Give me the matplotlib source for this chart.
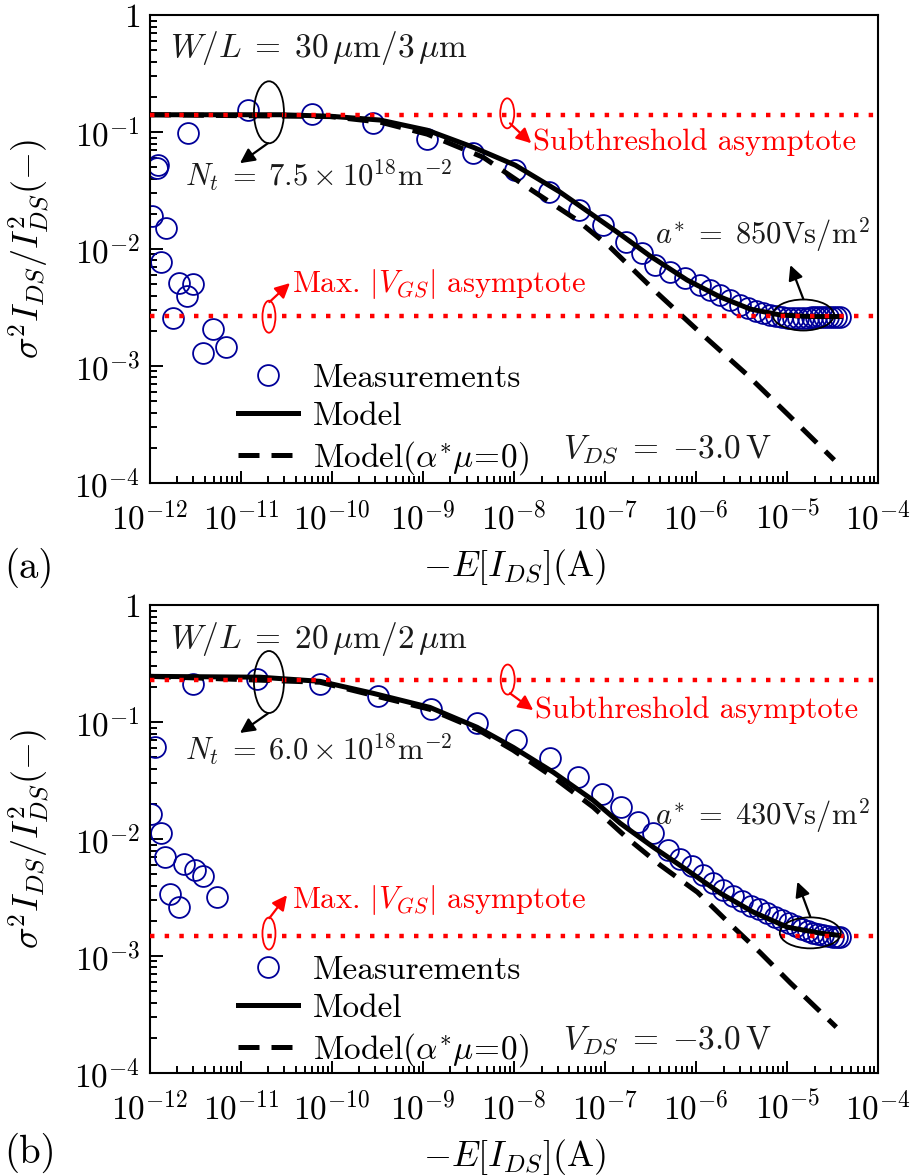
import matplotlib
matplotlib.use("Agg")
import matplotlib.pyplot as plt
from matplotlib.patches import Ellipse
from matplotlib.transforms import ScaledTranslation
from matplotlib.ticker import FixedLocator, FixedFormatter, LogLocator, NullFormatter

plt.rcParams.update({
    "font.family": "serif",
    "font.serif": ["cmr10"],
    "mathtext.fontset": "cm",
    "axes.unicode_minus": False,
    "axes.formatter.use_mathtext": True,
})

# ---- panel (a): W/L = 30um/3um ----
a_meas_x = [1.05e-12, 1.19e-12, 1.24e-12, 1.34e-12, 1.52e-12, 1.8e-12, 2.1e-12,
            2.57e-12, 2.64e-12, 3.0e-12, 3.85e-12, 4.9e-12, 6.8e-12,
            1.2e-11, 6.1e-11, 2.8e-10, 1.1e-9, 3.57e-9, 1.03e-8, 2.44e-8,
            5.2e-8, 9.4e-8, 1.70e-7, 2.53e-7, 3.54e-7, 5.18e-7, 7.57e-7,
            1.11e-6, 1.43e-6, 1.84e-6, 2.37e-6, 3.05e-6, 3.72e-6, 4.56e-6,
            5.45e-6, 6.50e-6, 7.57e-6, 8.81e-6, 1.03e-5, 1.16e-5, 1.32e-5,
            1.50e-5, 1.70e-5, 1.88e-5, 2.08e-5, 2.31e-5, 2.55e-5, 2.82e-5,
            3.13e-5, 3.45e-5, 3.82e-5]
a_meas_y = [0.0191, 0.049, 0.052, 0.0078, 0.0152, 0.00259, 0.0051,
            0.00397, 0.099, 0.0050, 0.0013, 0.00206, 0.00146,
            0.156, 0.142, 0.119, 0.0866, 0.0658, 0.0473, 0.0309,
            0.0218, 0.016, 0.0115, 0.0092, 0.0073, 0.0064, 0.00562,
            0.00492, 0.00447, 0.00404, 0.00366, 0.00332, 0.00313, 0.00295,
            0.00284, 0.00273, 0.00267, 0.00262, 0.00257, 0.00257, 0.00257,
            0.00257, 0.00257, 0.00262, 0.00262, 0.00262, 0.00262, 0.00262,
            0.00262, 0.00262, 0.00262]
a_model_x = [1e-12, 2.68e-11, 9.5e-11, 3.37e-10, 1.11e-9, 3.54e-9, 1.03e-8,
             3.2e-8, 6.84e-8, 1.46e-7, 3.13e-7, 7.96e-7, 1.84e-6, 3.92e-6,
             8.37e-6, 1.79e-5, 3.82e-5]
a_model_y = [0.141, 0.141, 0.137, 0.127, 0.104, 0.0744, 0.0522, 0.0307,
             0.0203, 0.0134, 0.0087, 0.00543, 0.00389, 0.00307, 0.00273,
             0.00265, 0.00265]
a_nomob_x = [1e-12, 9.5e-11, 3.37e-10, 1.11e-9, 4.56e-9, 1.39e-8, 4.92e-8,
             1.13e-7, 3.73e-7, 1.03e-6, 3.54e-6, 1.03e-5, 3.28e-5]
a_nomob_y = [0.141, 0.136, 0.122, 0.0962, 0.0611, 0.0339, 0.0177, 0.0104,
             0.00421, 0.00203, 0.000855, 0.000381, 0.000157]
a_sub_asym = 0.14
a_max_asym = 0.00267

# ---- panel (b): W/L = 20um/2um ----
b_meas_x = [1.04e-12, 1.14e-12, 1.31e-12, 1.46e-12, 1.66e-12, 2.1e-12, 2.37e-12,
            2.99e-12, 3.13e-12, 3.85e-12, 5.41e-12, 1.49e-11, 7.38e-11,
            3.23e-10, 1.22e-9, 3.89e-9, 1.05e-8, 2.49e-8, 5.09e-8, 9.2e-8,
            1.49e-7, 2.31e-7, 3.37e-7, 4.92e-7, 6.67e-7, 9.04e-7, 1.19e-6,
            1.54e-6, 1.98e-6, 2.55e-6, 3.20e-6, 4.02e-6, 4.92e-6, 6.03e-6,
            7.38e-6, 8.81e-6, 1.05e-5, 1.26e-5, 1.46e-5, 1.70e-5, 1.93e-5,
            2.19e-5, 2.49e-5, 2.82e-5, 3.20e-5, 3.54e-5, 3.82e-5]
b_meas_y = [0.0164, 0.0615, 0.0112, 0.00707, 0.00343, 0.00261, 0.00611,
            0.211, 0.00543, 0.00483, 0.00318, 0.236, 0.211,
            0.167, 0.129, 0.0993, 0.0702, 0.049, 0.0341, 0.0243,
            0.0189, 0.0141, 0.01125, 0.00805, 0.00675, 0.00588, 0.00492,
            0.00421, 0.00366, 0.00326, 0.00295, 0.00267, 0.00252, 0.00233,
            0.00215, 0.00203, 0.00191, 0.00180, 0.00170, 0.00164, 0.00157,
            0.00154, 0.00151, 0.00148, 0.00145, 0.00145, 0.00145]
b_model_x = [1e-12, 1.62e-11, 7.38e-11, 2.82e-10, 1.19e-9, 3.92e-9, 9.75e-9,
             2.69e-8, 7.38e-8, 1.46e-7, 3.37e-7, 7.96e-7, 1.84e-6, 4.23e-6,
             1.0e-5, 2.31e-5, 3.54e-5]
b_model_y = [0.247, 0.243, 0.224, 0.177, 0.134, 0.0906, 0.0611, 0.0374,
             0.0215, 0.0137, 0.00855, 0.00543, 0.00345, 0.00238, 0.00177,
             0.00157, 0.00151]
b_nomob_x = [1e-12, 7.38e-11, 2.82e-10, 1.19e-9, 3.92e-9, 9.75e-9, 2.69e-8,
             7.38e-8, 1.75e-7, 4.02e-7, 1.03e-6, 2.37e-6, 5.05e-6, 1.08e-5,
             3.45e-5]
b_nomob_y = [0.247, 0.220, 0.170, 0.129, 0.0871, 0.0577, 0.0339, 0.0188,
             0.0102, 0.0060, 0.00352, 0.00187, 0.00107, 0.00059, 0.000247]
b_sub_asym = 0.232
b_max_asym = 0.00148

x_ticks = [1e-12, 1e-11, 1e-10, 1e-9, 1e-8, 1e-7, 1e-6, 1e-5, 1e-4]
x_labels = [r"$10^{-12}$", r"$10^{-11}$", r"$10^{-10}$", r"$10^{-9}$", r"$10^{-8}$",
            r"$10^{-7}$", r"$10^{-6}$", r"$10^{-5}$", r"$10^{-4}$"]
y_ticks = [1e-4, 1e-3, 1e-2, 1e-1, 1]
y_labels = [r"$10^{-4}$", r"$10^{-3}$", r"$10^{-2}$", r"$10^{-1}$", r"$1$"]

MEAS_C = "#000099"
RED = "#ff0000"
TXT = "#1a1a1a"


def ellipse(ax, xy, w, h, color):
    # ellipse of fixed size (inches) centred on a data point
    trans = ax.figure.dpi_scale_trans + ScaledTranslation(xy[0], xy[1], ax.transData)
    ax.add_patch(Ellipse((0, 0), w, h, transform=trans, fill=False,
                         ec=color, lw=1.3, zorder=6, clip_on=False))


def arrow(ax, tail, head, color):
    ax.annotate("", xy=head, xytext=tail,
                arrowprops=dict(arrowstyle="-|>", color=color, lw=1.6,
                                mutation_scale=22, shrinkA=0, shrinkB=0),
                zorder=6)


def draw_panel(ax, mx, my, lx, ly, dx, dy, sub, vmax, wl, nt, astar, ann):
    h1, = ax.plot(mx, my, ls="none", marker="o", ms=15, mfc="none",
                  mec=MEAS_C, mew=1.3, zorder=2)
    h3, = ax.plot(dx, dy, color="k", lw=3.6, ls=(0, (4.2, 2.4)), zorder=3)
    h2, = ax.plot(lx, ly, color="k", lw=3.6, zorder=3)
    for v in (sub, vmax):
        ax.axhline(v, color=RED, lw=3.2, ls=(0, (1, 2.3)), zorder=4)

    ax.set_xscale("log")
    ax.set_yscale("log")
    ax.set_xlim(1e-12, 1e-4)
    ax.set_ylim(1e-4, 1)
    ax.xaxis.set_major_locator(FixedLocator(x_ticks))
    ax.xaxis.set_major_formatter(FixedFormatter(x_labels))
    ax.yaxis.set_major_locator(FixedLocator(y_ticks))
    ax.yaxis.set_major_formatter(FixedFormatter(y_labels))
    for axis in (ax.xaxis, ax.yaxis):
        axis.set_minor_locator(LogLocator(base=10, subs=range(2, 10), numticks=20))
        axis.set_minor_formatter(NullFormatter())
    ax.tick_params(which="both", direction="in", top=False, right=False,
                   width=1.4, labelsize=24, colors="k")
    ax.tick_params(which="major", length=9)
    ax.tick_params(axis="x", which="major", pad=13)
    ax.tick_params(axis="y", which="major", pad=7)
    ax.tick_params(which="minor", length=5)
    for s in ax.spines.values():
        s.set_linewidth(1.5)

    ax.set_xlabel(r"$-E[I_{DS}](\mathrm{A})$", fontsize=26, labelpad=8)
    ax.set_ylabel(r"$\sigma^2 I_{DS}/I_{DS}^2(-)$", fontsize=26)
    ax.yaxis.set_label_coords(-0.135, 0.5)

    ax.text(0.027, 0.929, wl, transform=ax.transAxes, fontsize=24,
            va="center", color=TXT)
    ax.text(0.048, ann["nt_y"], nt, transform=ax.transAxes, fontsize=22,
            va="center", color=TXT)
    ax.text(ann["sub_tx"], ann["sub_y"], "Subthreshold asymptote",
            transform=ax.transAxes, fontsize=22, va="center", color=RED)
    ax.text(0.195, ann["max_y"], r"Max. $|V_{GS}|$ asymptote",
            transform=ax.transAxes, fontsize=22, va="center", color=RED)
    ax.text(0.694, ann["a_y"], astar, transform=ax.transAxes, fontsize=22,
            va="center", color=TXT)
    ax.text(0.567, 0.0705, r"$V_{DS}\;=\;{-}3.0\,\mathrm{V}$",
            transform=ax.transAxes, fontsize=24, va="center", color=TXT)

    ellipse(ax, ann["nt_e"], 0.30, 0.62, "k")
    arrow(ax, ann["nt_a"][0], ann["nt_a"][1], "k")
    ellipse(ax, ann["sub_e"], 0.14, 0.30, RED)
    arrow(ax, ann["sub_a"][0], ann["sub_a"][1], RED)
    ellipse(ax, ann["max_e"], 0.13, 0.32, RED)
    arrow(ax, ann["max_a"][0], ann["max_a"][1], RED)
    ellipse(ax, ann["a_e"], 0.61, 0.31, "k")
    arrow(ax, ann["a_a"][0], ann["a_a"][1], "k")

    ax.legend([h1, h2, h3], ["Measurements", "Model", r"Model$(\alpha^{*}\mu\!=\!0)$"],
              loc="upper left", bbox_to_anchor=(0.121, ann["leg_y"]),
              frameon=False, fontsize=24, handlelength=1.8, handletextpad=0.45,
              labelspacing=0.25, borderpad=0, borderaxespad=0, numpoints=1)


fig = plt.figure(figsize=(9.14, 11.75), dpi=100)
ax_a = fig.add_axes([0.164, 0.589, 0.797, 0.398])
ax_b = fig.add_axes([0.164, 0.0868, 0.797, 0.398])

ann_a = dict(
    nt_y=0.656, sub_tx=0.526, sub_y=0.730, max_y=0.425, a_y=0.532, leg_y=0.255,
    nt_e=(2.03e-11, 0.148), nt_a=((1.98e-11, 0.0805), (9.75e-12, 0.0543)),
    sub_e=(8.4e-9, 0.145), sub_a=((9.0e-9, 0.119), (1.54e-8, 0.0805)),
    max_e=(2.03e-11, 0.00264), max_a=((2.05e-11, 0.00352), (3.45e-11, 0.00512)),
    a_e=(1.5e-5, 0.00273), a_a=((1.5e-5, 0.00374), (1.08e-5, 0.0073)),
)
ann_b = dict(
    nt_y=0.690, sub_tx=0.529, sub_y=0.776, max_y=0.370, a_y=0.551, leg_y=0.251,
    nt_e=(2.03e-11, 0.221), nt_a=((1.98e-11, 0.119), (9.75e-12, 0.081)),
    sub_e=(8.5e-9, 0.232), sub_a=((9.0e-9, 0.177), (1.62e-8, 0.127)),
    max_e=(2.03e-11, 0.00156), max_a=((2.05e-11, 0.00211), (3.2e-11, 0.00332)),
    a_e=(1.79e-5, 0.00158), a_a=((1.79e-5, 0.00217), (1.29e-5, 0.00432)),
)

draw_panel(ax_a, a_meas_x, a_meas_y, a_model_x, a_model_y, a_nomob_x, a_nomob_y,
           a_sub_asym, a_max_asym,
           r"$W/L\;=\;30\,\mu\mathrm{m}/3\,\mu\mathrm{m}$",
           r"$N_t\;=\;7.5\times10^{18}\mathrm{m}^{-2}$",
           r"$a^{*}\;=\;850\mathrm{Vs/m}^{2}$", ann_a)
draw_panel(ax_b, b_meas_x, b_meas_y, b_model_x, b_model_y, b_nomob_x, b_nomob_y,
           b_sub_asym, b_max_asym,
           r"$W/L\;=\;20\,\mu\mathrm{m}/2\,\mu\mathrm{m}$",
           r"$N_t\;=\;6.0\times10^{18}\mathrm{m}^{-2}$",
           r"$a^{*}\;=\;430\mathrm{Vs/m}^{2}$", ann_b)

fig.text(0.005, 0.517, "(a)", fontsize=28, va="center")
fig.text(0.005, 0.019, "(b)", fontsize=28, va="center")

fig.savefig("out.png", dpi=100)
plt.close(fig)
